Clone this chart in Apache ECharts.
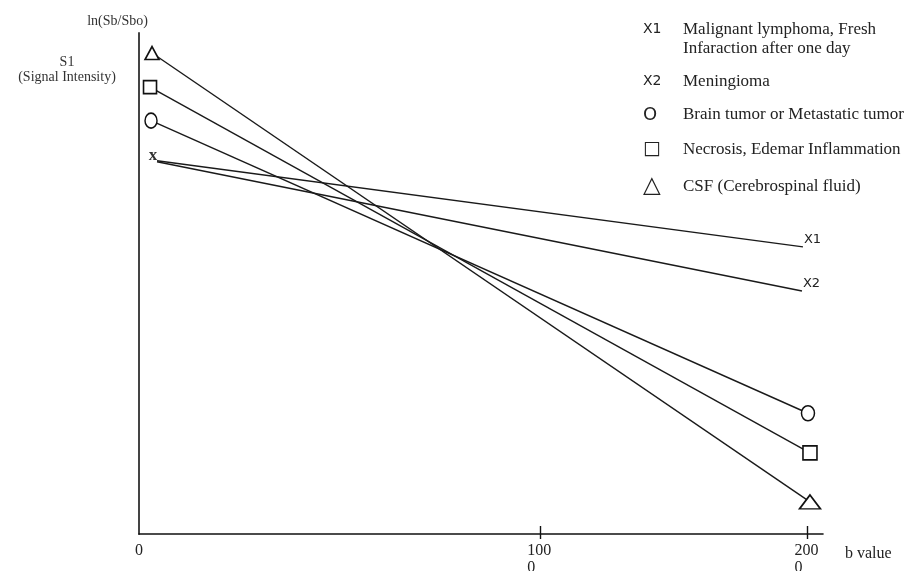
<!DOCTYPE html>
<html>
<head>
<meta charset="utf-8">
<script src="https://cdn.jsdelivr.net/npm/echarts@6/dist/echarts.min.js"></script>
<style>html,body{margin:0;background:#fff}#main{width:909px;height:571px}</style>
</head>
<body>
<div id="main"></div>
<script>
// legend lines / series
var legendLines = [
	['Malignant lymphoma, Fresh', 'Infaraction after one day'],
	['Meningioma'],
	['Brain tumor or Metastatic tumor'],
	['Necrosis, Edemar Inflammation'],
	['CSF (Cerebrospinal fluid)']
];
var legendKeys = ['X1', 'X2', 'O', '\u25A1', '\u25B3'];
var endTags = ['X1', 'X2', '', '', ''];
// b value at start / end of each line
var bStart = [54, 54, 36, 33, 39];
var bEnd = [1988, 1985, 2003, 2009, 2009];
// ln(Sb/Sbo), arbitrary units 0..100
var lnStart = [74.5, 74.3, 82.5, 89.2, 96.0];
var lnEnd = [57.3, 48.5, 24.1, 16.2, 6.4];
// x axis ticks
var xTickValues = [0, 1200, 2000];
var xTickLabels = ['0', '100\n0', '200\n0'];

var seriesNames = legendLines.map(function(l){ return l.join(' '); });
var symbols = ['none', 'none', 'circle', 'rect', 'triangle'];
var startSizes = [0, 0, [12, 15], [13, 13], [14, 13]];
var endSizes = [0, 0, [13, 15], [14, 14], [21, 14]];
var keyStyles = ['kx', 'kx', 'ko', 'ks', 'kt'];

var serif = 'Liberation Serif';
var myChart = echarts.init(document.getElementById('main'));

var series = seriesNames.map(function(name, i){
	var p0 = {value: [bStart[i], lnStart[i]], symbol: symbols[i], symbolSize: startSizes[i]};
	var p1 = {value: [bEnd[i], lnEnd[i]], symbol: symbols[i], symbolSize: endSizes[i]};
	if (i === 0) {
		// little "x" marking the start of both X lines
		p0.symbol = 'circle';
		p0.symbolSize = 1;
		p0.itemStyle = {color: 'rgba(0,0,0,0)', borderWidth: 0};
		p0.label = {show: true, position: 'inside', offset: [-4, -5], formatter: 'x',
			fontFamily: serif, fontSize: 17, fontWeight: 'bold', color: '#333'};
	}
	var s = {
		name: name,
		type: 'line',
		data: [p0, p1],
		showSymbol: true,
		z: 2,
		lineStyle: {color: '#1a1a1a', width: 1.4},
		itemStyle: {color: '#fff', borderColor: '#111', borderWidth: 1.6},
		emphasis: {disabled: true}
	};
	if (endTags[i]) {
		s.endLabel = {show: true, formatter: endTags[i], offset: [-7, -7],
			fontFamily: 'DejaVu Sans', fontSize: 13, color: '#222'};
	}
	return s;
});

var option = {
	animation: false,
	backgroundColor: '#fff',
	title: {
		text: 'S1\n(Signal Intensity)',
		left: 62, top: 50, textAlign: 'center',
		textStyle: {fontFamily: serif, fontSize: 14, fontWeight: 'normal', lineHeight: 15, color: '#333'}
	},
	legend: {
		orient: 'vertical',
		left: 638, top: 21,
		padding: 0,
		itemGap: 16,
		icon: 'none',
		itemWidth: 0, itemHeight: 0,
		selectedMode: false,
		data: seriesNames,
		formatter: function(name){
			var i = seriesNames.indexOf(name);
			var lines = legendLines[i];
			var out = '{' + keyStyles[i] + '|' + legendKeys[i] + '}{t|' + lines[0] + '}';
			for (var j = 1; j < lines.length; j++) out += '\n{k|}{t|' + lines[j] + '}';
			return out;
		},
		textStyle: {
			rich: {
				t: {fontFamily: serif, fontSize: 17, lineHeight: 19, color: '#222'},
				k: {width: 40, lineHeight: 19},
				kx: {width: 40, lineHeight: 19, fontFamily: 'DejaVu Sans', fontSize: 14, color: '#222'},
				ko: {width: 40, lineHeight: 19, fontFamily: 'DejaVu Sans', fontSize: 18, color: '#222'},
				ks: {width: 40, lineHeight: 19, fontFamily: 'DejaVu Sans', fontSize: 19, color: '#222'},
				kt: {width: 40, lineHeight: 19, fontFamily: 'DejaVu Sans', fontSize: 23, color: '#222'}
			}
		}
	},
	grid: {left: 139, right: 86, top: 33, bottom: 37, outerBoundsMode: 'none'},
	xAxis: [{
		type: 'value',
		min: 0, max: 2048,
		name: 'b value',
		nameLocation: 'end',
		nameGap: 22,
		nameTextStyle: {fontFamily: serif, fontSize: 16, color: '#222', verticalAlign: 'top', padding: [12, 0, 0, 0]},
		axisLine: {lineStyle: {color: '#111', width: 1.6}},
		axisTick: {show: true, inside: true, length: 8, customValues: xTickValues.slice(1),
			lineStyle: {color: '#111', width: 1.4}},
		axisLabel: {
			customValues: xTickValues,
			margin: 8,
			formatter: function(v){
				var i = xTickValues.indexOf(v);
				var parts = xTickLabels[i].split('\n');
				if (parts.length === 1) return '{c|' + parts[0] + '}';
				return parts.map(function(p){ return '{t|' + p + '}'; }).join('\n');
			},
			rich: {
				c: {fontFamily: serif, fontSize: 16, lineHeight: 17, color: '#222'},
				t: {fontFamily: serif, fontSize: 16, lineHeight: 17, color: '#222', width: 25, align: 'left'}
			}
		},
		splitLine: {show: false}
	}, {
		type: 'value',
		min: 0, max: 2048,
		position: 'bottom',
		axisLine: {show: false},
		axisTick: {show: true, length: 5, customValues: xTickValues.slice(1),
			lineStyle: {color: '#111', width: 1.4}},
		axisLabel: {show: false},
		splitLine: {show: false}
	}],
	yAxis: {
		type: 'value',
		min: 0, max: 100,
		name: 'ln(Sb/Sbo)',
		nameLocation: 'end',
		nameGap: 5,
		nameTextStyle: {fontFamily: serif, fontSize: 14, color: '#333', align: 'center', padding: [0, 43, 0, 0]},
		axisLine: {show: true, lineStyle: {color: '#444', width: 2}},
		axisTick: {show: false},
		axisLabel: {show: false},
		splitLine: {show: false}
	},
	series: series
};
myChart.setOption(option);
</script>
</body>
</html>
